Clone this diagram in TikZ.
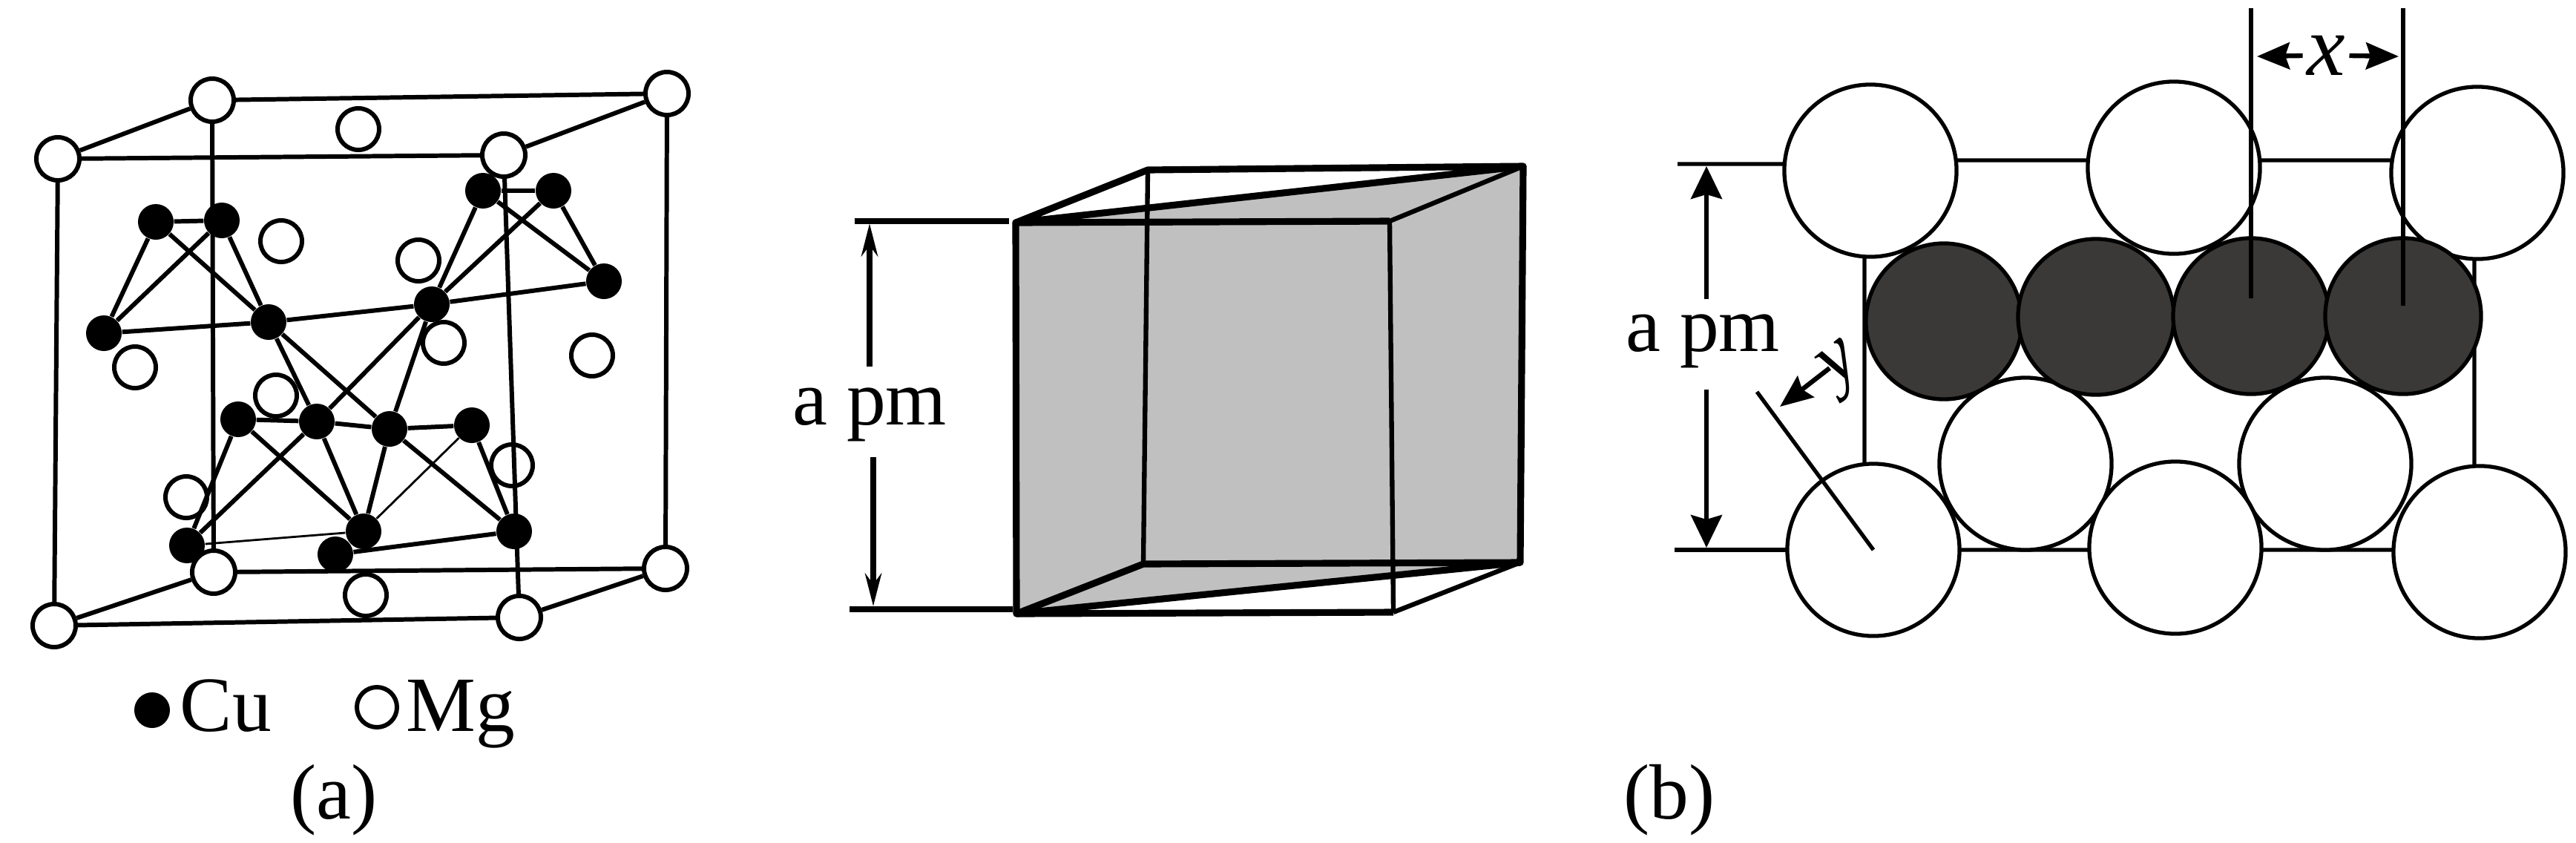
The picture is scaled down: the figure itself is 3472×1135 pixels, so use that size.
\documentclass[tikz,border=0pt]{standalone}
\usepackage{fontspec}
\setmainfont{Liberation Serif}
\usetikzlibrary{arrows.meta, backgrounds}
\definecolor{planegray}{RGB}{193,192,192}
\definecolor{darkatom}{RGB}{58,57,55}
\tikzset{
  cu/.style={circle, fill=black, inner sep=0pt, minimum size=.48cm},
  mg/.style={circle, draw, line width=1.7pt, inner sep=0pt, minimum size=.56cm},
  corner/.style={mg, fill=white, minimum size=.58cm},
  bond/.style={line width=1.7pt},
  thinbond/.style={line width=.8pt},
  big/.style={circle, draw, fill=white, line width=1.5pt, inner sep=0pt, minimum size=2.32cm},
  dark/.style={circle, draw, fill=darkatom, line width=1.5pt, inner sep=0pt, minimum size=2.1cm},
  lab/.style={font=\fontsize{30}{34}\selectfont, inner sep=0pt},
  heavy/.style={line width=2.6pt},
  medium/.style={line width=1.8pt},
  dimline/.style={line width=1.5pt},
  midtip/.style={-{Stealth[length=.44cm, width=.22cm]}},
  bigtip/.style={-{Stealth[length=.44cm, width=.42cm, inset=.06cm]}},
  smalltip/.style={-{Stealth[length=.44cm, width=.36cm, inset=.06cm]}},
}
\begin{document}
\begin{tikzpicture}[x=.01cm, y=-.01cm]
\useasboundingbox (0,0) rectangle (3472,1135);

% Cu atoms
\node[cu] (c1) at (210,299) {};
\node[cu] (c2) at (299,297) {};
\node[cu] (c3) at (140,449) {};
\node[cu] (c4) at (362,434) {};
\node[cu] (c5) at (651,257) {};
\node[cu] (c6) at (746,257) {};
\node[cu] (c7) at (814,379) {};
\node[cu] (c8) at (582,410) {};
\node[cu] (c9) at (321,565) {};
\node[cu] (c10) at (427,568) {};
\node[cu] (c11) at (525,578) {};
\node[cu] (c12) at (636,573) {};
\node[cu] (c13) at (252,735) {};
\node[cu] (c14) at (490,716) {};
\node[cu] (c15) at (452,747) {};
\node[cu] (c16) at (693,716) {};

% Mg atoms on the cell
\node[corner] (ftl) at (78,214) {};
\node[corner] (btl) at (286,135) {};
\node[corner] (btr) at (899,126) {};
\node[corner] (ftr) at (679,209) {};
\node[corner] (fbl) at (73,843) {};
\node[corner] (bbl) at (288,771) {};
\node[corner] (bbr) at (897,766) {};
\node[corner] (fbr) at (700,832) {};

% Mg atoms inside
\node[mg] (m1) at (483,174) {};
\node[mg] (m2) at (379,325) {};
\node[mg] (m3) at (564,351) {};
\node[mg] (m4) at (182,495) {};
\node[mg] (m5) at (598,462) {};
\node[mg] (m6) at (798,479) {};
\node[mg] (m7) at (372,533) {};
\node[mg] (m8) at (251,670) {};
\node[mg] (m9) at (690,627) {};
\node[mg] (m10) at (493,802) {};

% Cell edges
\foreach \a/\b in {ftl/btl, btl/btr, btr/ftr, ftr/ftl, ftl/fbl, fbl/bbl, bbl/bbr, bbr/fbr, fbr/fbl, btl/bbl, btr/bbr, ftr/fbr}
  \draw[bond] (\a) -- (\b);

% Bonds
\foreach \a/\b in {c1/c2, c1/c3, c1/c4, c2/c3, c2/c4, c3/c4, c4/c8, c8/c7, c8/c5, c8/c6, c5/c6, c5/c7, c6/c7, c4/c10, c4/c11, c8/c10, c8/c11, c9/c10, c10/c11, c11/c12, c9/c13, c9/c14, c10/c13, c10/c14, c11/c14, c11/c16, c12/c16, c15/c16}
  \draw[bond] (\a) -- (\b);
\draw[thinbond] (c12) -- (c14);
\draw[thinbond] (c13) -- (c14);

% Legend
\node[cu] (cukey) at (205,957) {};
\node[lab, anchor=base west] (culab) at (242,985) {Cu};
\node[mg, minimum size=.54cm] (mgkey) at (508,953) {};
\node[lab, anchor=base west] (mglab) at (547,985) {Mg};
\node[lab] (capa) at (450,1078) {(a)};

% Sliced cube
\coordinate (p) at (1369,300);
\coordinate (q) at (1873,298);
\coordinate (r) at (1370,827);
\coordinate (s) at (1878,825);
\coordinate (t) at (1547,229);
\coordinate (u) at (2053,224);
\coordinate (v) at (1541,760);
\coordinate (w) at (2049,758);
\fill[planegray] (p) -- (u) -- (w) -- (r) -- cycle;
\draw[medium] (t) -- (v);
\draw[medium] (q) -- (u);
\draw[medium] (s) -- (w);
\draw[medium] (q) -- (s);
\draw[heavy, line join=round] (r) -- (p) -- (q);
\draw[heavy, line join=round] (p) -- (t) -- (u) -- cycle;
\draw[heavy, line join=round] (u) -- (w) -- (r);
\draw[heavy, line join=round] (w) -- (v) -- (r) -- (s);

% Height of the cube
\coordinate (tl) at (1152,298);
\coordinate (tr) at (1360,298);
\coordinate (bl) at (1145,821);
\coordinate (br) at (1365,821);
\draw[line width=2.2pt] (tl) -- (tr);
\draw[line width=2.2pt] (bl) -- (br);
\node[lab] (apm1) at (1172,559) {a pm};
\coordinate (a1) at (1172,494);
\coordinate (a2) at (1172,301);
\coordinate (a3) at (1177,616);
\coordinate (a4) at (1177,817);
\draw[line width=2.1pt, midtip] (a1) -- (a2);
\draw[line width=2.1pt, midtip] (a3) -- (a4);

% Packing in the cell face
\node[big] (mid1) at (2730,625) {};
\node[big] (mid2) at (3134,625) {};
\node[big] (bot1) at (2525,741) {};
\node[big] (bot2) at (2932,738) {};
\node[big] (bot3) at (3342,744) {};
\node[big] (top1) at (2521,230) {};
\node[big] (top2) at (2930,226) {};
\node[big] (top3) at (3339,233) {};
\node[dark] (d1) at (2620,433) {};
\node[dark] (d2) at (2825,427) {};
\node[dark] (d3) at (3034,426) {};
\node[dark] (d4) at (3239,426) {};

% Face outline behind the atoms
\coordinate (st) at (2261,221);
\coordinate (sb) at (2257,741);
\begin{scope}[on background layer]
\draw[dimline] (st) -- ([yshift=.09cm]top1.center);
\draw[dimline] ([yshift=.14cm]top1.center) -- ([yshift=.10cm]top2.center);
\draw[dimline] ([yshift=.10cm]top2.center) -- ([yshift=.17cm]top3.center);
\draw[dimline] (sb) -- (bot1.center);
\draw[dimline] (bot1.center) -- ([yshift=-.03cm]bot2.center);
\draw[dimline] ([yshift=-.03cm]bot2.center) -- ([yshift=.03cm]bot3.center);
\draw[dimline] ([xshift=-.08cm]top1.center) -- ([xshift=-.12cm]bot1.center);
\draw[dimline] ([xshift=-.04cm]top3.center) -- ([xshift=-.07cm]bot3.center);
\end{scope}

% Dimensions
\node[lab] (apm2) at (2295,460) {a pm};
\coordinate (h1) at (2300,403);
\coordinate (h2) at (2300,224);
\coordinate (h3) at (2300,525);
\coordinate (h4) at (2300,738);
\draw[dimline, bigtip] (h1) -- (h2);
\draw[dimline, bigtip] (h3) -- (h4);

\coordinate (x1) at (3034,11);
\coordinate (x2) at (3034,402);
\coordinate (x3) at (3239,11);
\coordinate (x4) at (3239,412);
\draw[dimline] (x1) -- (x2);
\draw[dimline] (x3) -- (x4);
\node[lab, font=\fontsize{33}{34}\selectfont\itshape] (xlab) at (3135,75) {x};
\coordinate (xl) at (3042,76);
\coordinate (xr) at (3233,76);
\draw[medium, smalltip] ([xshift=-.05cm]xlab.west) -- (xl);
\draw[medium, smalltip] ([xshift=.05cm]xlab.east) -- (xr);

\coordinate (y1) at (2368,528);
\coordinate (y2) at (2525,741);
\coordinate (y3) at (2466,496);
\coordinate (y4) at (2399,548);
\draw[dimline] (y1) -- (y2);
\draw[medium, smalltip] (y3) -- (y4);
\node[lab, font=\fontsize{30}{34}\selectfont\itshape, rotate=38] (ylab) at (2484,497) {y};

\node[lab] (capb) at (2250,1078) {(b)};
\end{tikzpicture}
\end{document}
